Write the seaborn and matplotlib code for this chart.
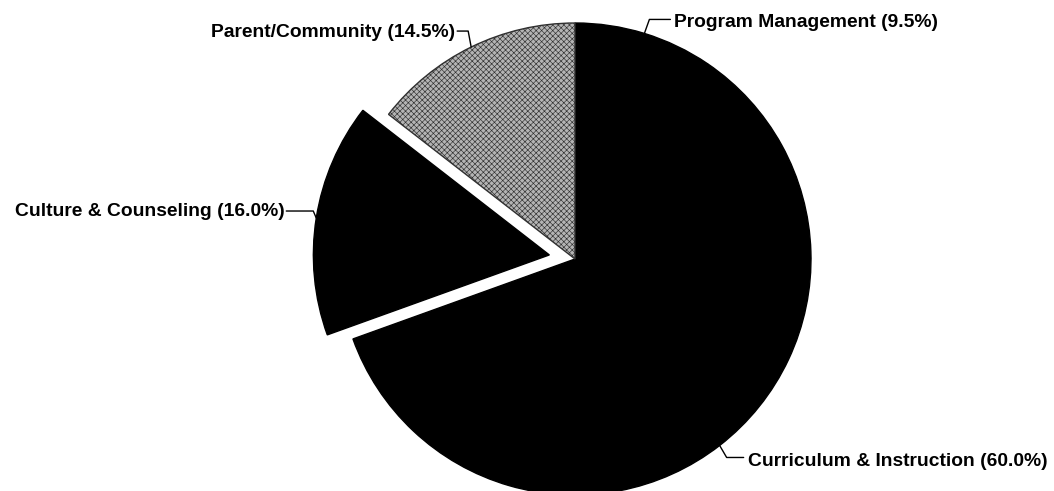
import matplotlib
matplotlib.use("Agg")
import matplotlib.pyplot as plt
import numpy as np
import seaborn as sns

# Budget shares by program component
categories = ["Program Management", "Curriculum & Instruction",
              "Culture & Counseling", "Parent/Community"]
shares = [9.5, 60.0, 16.0, 14.5]
explode = [0.0, 0.0, 0.11, 0.0]

sns.set_theme(style="white")
plt.rcParams["font.family"] = ["Liberation Sans", "DejaVu Sans"]
plt.rcParams["hatch.linewidth"] = 0.45

W, H = 1054, 491
CX, CY, R = 575.0, 259.0, 236.0


def to_data(px, py):
    return (px - CX) / R, (CY - py) / R


fig = plt.figure(figsize=(W / 100, H / 100), dpi=100)
ax = fig.add_axes([0, 0, 1, 1])

wedges, _ = ax.pie(
    shares,
    explode=explode,
    startangle=90,
    counterclock=False,
    colors=["black", "black", "black", "#b4b4b4"],
    wedgeprops=dict(edgecolor="black", linewidth=1.0),
)
wedges[3].set_hatch("xxxxxx")
wedges[3].set_edgecolor("#303030")

x0, y0 = to_data(0, H)
x1, y1 = to_data(W, 0)
ax.set_xlim(x0, x1)
ax.set_ylim(y0, y1)
ax.set_aspect("auto")
ax.axis("off")

# leader elbows in pixel offsets (dx1, dy1), horizontal run, text side,
# text vertical nudge
layout = {
    "Program Management": ((5, -14), 21, "left", 3),
    "Curriculum & Instruction": ((7, 12), 17, "left", 4),
    "Culture & Counseling": ((-3, -7), -27, "right", 0),
    "Parent/Community": ((-3, -16), -11, "right", 1),
}

for w, name, val in zip(wedges, categories, shares):
    mid = np.deg2rad((w.theta1 + w.theta2) / 2)
    ex = w.center[0] + w.r * np.cos(mid)
    ey = w.center[1] + w.r * np.sin(mid)
    px, py = CX + ex * R, CY - ey * R
    (d1x, d1y), d2x, side, nudge = layout[name]
    p1 = (px + d1x, py + d1y)
    p2 = (p1[0] + d2x, p1[1])
    pts = [to_data(px, py), to_data(*p1), to_data(*p2)]
    ax.plot([p[0] for p in pts], [p[1] for p in pts], color="black", lw=1.0)
    tx = p2[0] + (4 if side == "left" else -2)
    ax.text(*to_data(tx, p2[1] + nudge), f"{name} ({val:.1f}%)",
            ha=side, va="center", fontsize=13.9, fontweight="bold",
            color="black")

fig.savefig("out.png", dpi=100, facecolor="white")
